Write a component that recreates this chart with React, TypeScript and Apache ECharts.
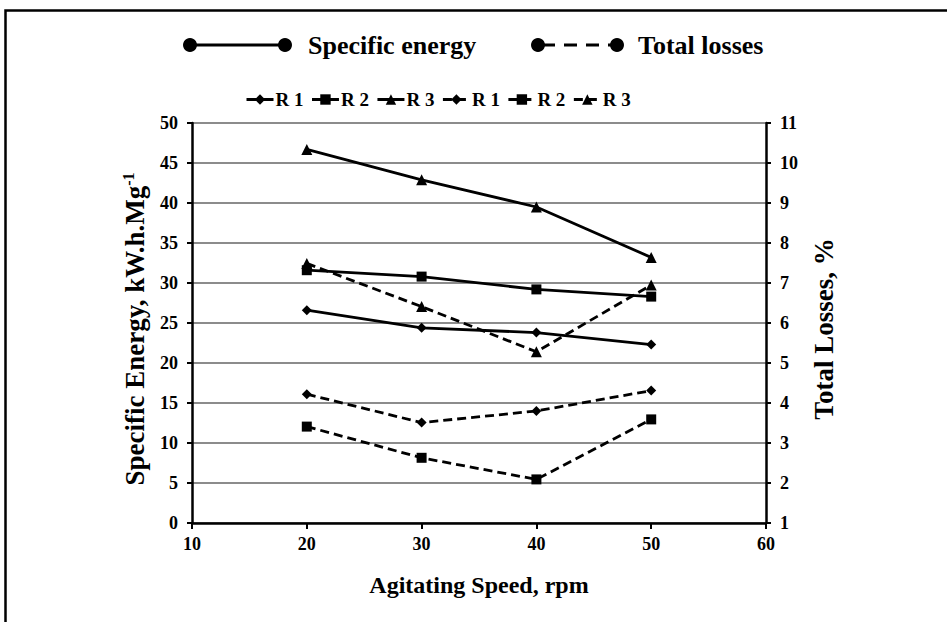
import React, { useEffect, useRef } from "react";
import * as echarts from "echarts";

// ---- data ----
const speeds = [20, 30, 40, 50];
const seR1 = [26.6, 24.4, 23.8, 22.3];
const seR2 = [31.6, 30.8, 29.2, 28.3];
const seR3 = [46.7, 42.9, 39.5, 33.2];
const tlR1 = [4.22, 3.51, 3.8, 4.31];
const tlR2 = [3.41, 2.63, 2.09, 3.59];
const tlR3 = [7.49, 6.41, 5.28, 6.95];
const runLabels = ["R 1", "R 2", "R 3"];
const runSymbols = ["diamond", "rect", "triangle"];
const runSymbolSizes = [10, 10, 11];
const xRange = [10, 60, 10];
const leftRange = [0, 50, 5];
const rightRange = [1, 11, 1];
const groupLabels = ["Specific energy", "Total losses"];
const xTitle = "Agitating Speed, rpm";
const leftTitle = "Specific Energy, kW.h.Mg{sup|-1}";
const rightTitle = "Total Losses, %";

const FONT = "Liberation Serif";

export default function App() {
  const ref = useRef<HTMLDivElement>(null);

  useEffect(() => {
    if (!ref.current) return;
    const chart = echarts.init(ref.current, undefined, { renderer: "svg" });

    const seSets = [seR1, seR2, seR3];
    const tlSets = [tlR1, tlR2, tlR3];
    const series: any[] = [];
    const legendNames: string[] = [];
    seSets.forEach((vals, i) => {
      const name = "SE " + runLabels[i];
      legendNames.push(name);
      series.push({
        name,
        type: "line",
        yAxisIndex: 0,
        data: speeds.map((s, k) => [s, vals[k]]),
        symbol: runSymbols[i],
        symbolSize: runSymbolSizes[i],
        showSymbol: true,
        itemStyle: { color: "#000" },
        lineStyle: { color: "#000", width: 2.8, type: "solid" },
        z: 3,
      });
    });
    tlSets.forEach((vals, i) => {
      const name = "TL " + runLabels[i];
      legendNames.push(name);
      series.push({
        name,
        type: "line",
        yAxisIndex: 1,
        data: speeds.map((s, k) => [s, vals[k]]),
        symbol: runSymbols[i],
        symbolSize: runSymbolSizes[i],
        showSymbol: true,
        itemStyle: { color: "#000" },
        lineStyle: { color: "#000", width: 2.8, type: [9, 5] },
        z: 3,
      });
    });

    const tickLabel = { color: "#000", fontFamily: FONT, fontWeight: "bold" as const, fontSize: 18 };
    const axisLine = { show: true, lineStyle: { color: "#000", width: 2.5 } };
    const axisTick = { show: true, inside: false, length: 5, lineStyle: { color: "#000", width: 2 } };

    chart.setOption({
      animation: false,
      backgroundColor: "#fff",
      grid: { left: 192, top: 123, right: 181, bottom: 99, containLabel: false },
      legend: {
        data: legendNames,
        left: 240,
        top: 85,
        itemWidth: 27,
        itemHeight: 13,
        itemGap: 7,
        selectedMode: false,
        lineStyle: { width: 3 },
        formatter: (n: string) => n.slice(3),
        textStyle: { color: "#000", fontFamily: FONT, fontWeight: "bold", fontSize: 19, padding: [0, 0, 0, -3] },
      },
      xAxis: {
        type: "value",
        min: xRange[0],
        max: xRange[1],
        interval: xRange[2],
        axisLine,
        axisTick: { ...axisTick, length: 6 },
        splitLine: { show: false },
        axisLabel: { ...tickLabel, margin: 12 },
        name: xTitle,
        nameLocation: "middle",
        nameGap: 50,
        nameTextStyle: { color: "#000", fontFamily: FONT, fontWeight: "bold", fontSize: 24 },
      },
      yAxis: [
        {
          type: "value",
          position: "left",
          min: leftRange[0],
          max: leftRange[1],
          interval: leftRange[2],
          axisLine,
          axisTick,
          axisLabel: { ...tickLabel, margin: 14 },
          splitLine: { show: true, lineStyle: { color: "#666", width: 1.7 } },
          name: leftTitle,
          nameLocation: "middle",
          nameRotate: 90,
          nameGap: 40,
          nameTextStyle: {
            color: "#000",
            fontFamily: FONT,
            fontWeight: "bold",
            fontSize: 27,
            lineHeight: 29,
            padding: [0, 12, 0, 0],
            rich: {
              sup: { fontFamily: FONT, fontWeight: "bold", fontSize: 16, color: "#000", verticalAlign: "top", lineHeight: 29 },
            },
          },
        },
        {
          type: "value",
          position: "right",
          min: rightRange[0],
          max: rightRange[1],
          interval: rightRange[2],
          axisLine,
          axisTick,
          axisLabel: { ...tickLabel, margin: 14 },
          splitLine: { show: false },
          name: rightTitle,
          nameLocation: "middle",
          nameRotate: 90,
          nameGap: 44,
          nameTextStyle: { color: "#000", fontFamily: FONT, fontWeight: "bold", fontSize: 27, padding: [0, 12, 0, 0] },
        },
      ],
      series,
      graphic: [
        {
          type: "rect",
          shape: { x: 5.5, y: 10.5, width: 1100, height: 800 },
          style: { fill: "none", stroke: "#000", lineWidth: 2.5 },
          silent: true,
        },
        {
          type: "group",
          children: [
            { type: "line", shape: { x1: 190, y1: 45, x2: 285, y2: 45 }, style: { stroke: "#000", lineWidth: 3 } },
            { type: "circle", shape: { cx: 190, cy: 45, r: 7 }, style: { fill: "#000" } },
            { type: "circle", shape: { cx: 285, cy: 45, r: 7 }, style: { fill: "#000" } },
            {
              type: "text",
              x: 308,
              y: 45,
              style: { text: groupLabels[0], fill: "#000", fontFamily: FONT, fontWeight: "bold", fontSize: 26, verticalAlign: "middle" },
            },
            { type: "line", shape: { x1: 538, y1: 45, x2: 617, y2: 45 }, style: { stroke: "#000", lineWidth: 3, lineDash: [13, 9], lineDashOffset: -4 } },
            { type: "circle", shape: { cx: 538, cy: 45, r: 7 }, style: { fill: "#000" } },
            { type: "circle", shape: { cx: 617, cy: 45, r: 7 }, style: { fill: "#000" } },
            {
              type: "text",
              x: 638,
              y: 45,
              style: { text: groupLabels[1], fill: "#000", fontFamily: FONT, fontWeight: "bold", fontSize: 26, verticalAlign: "middle" },
            },
          ],
        },
      ],
    });

    return () => chart.dispose();
  }, []);

  return (
    <div
      ref={ref}
      style={{ position: "fixed", left: 0, top: 0, width: 947, height: 622, background: "#fff" }}
    />
  );
}
